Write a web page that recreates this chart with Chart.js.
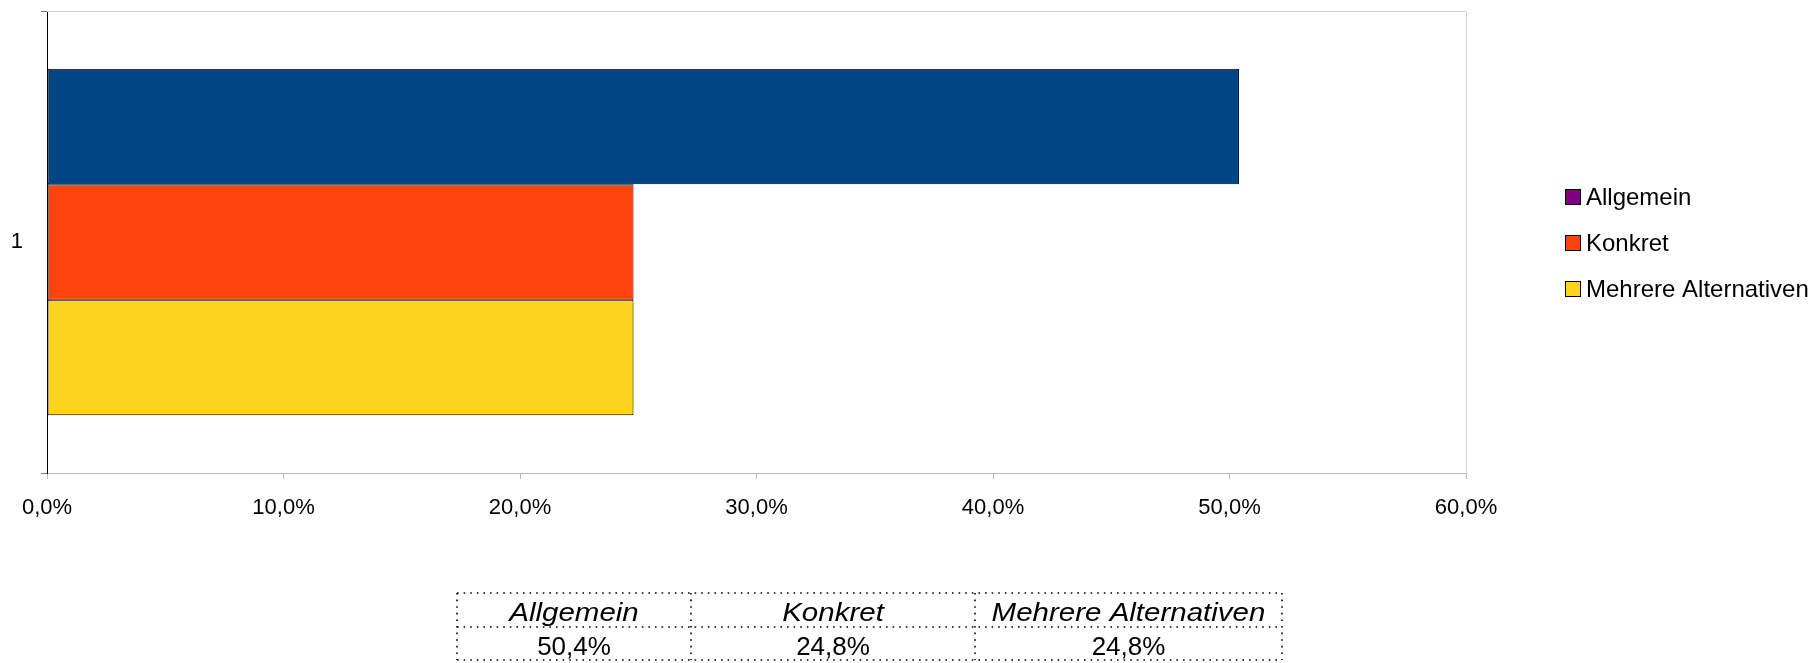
<!DOCTYPE html>
<html>
<head>
<meta charset="utf-8">
<script src="https://cdn.jsdelivr.net/npm/chart.js@4"></script>
<style>
  html, body { margin: 0; padding: 0; background: #fff; }
  canvas { display: block; }
</style>
</head>
<body>
<canvas id="grafico" width="1819" height="663"></canvas>
<script>
// data
const categories = ['1'];
const seriesNames = ['Allgemein', 'Konkret', 'Mehrere Alternativen'];
const allgemein = [50.4];
const konkret = [24.8];
const mehrere = [24.8];
const tickLabels = ['0,0%', '10,0%', '20,0%', '30,0%', '40,0%', '50,0%', '60,0%'];
const barColors = ['#004586', '#ff420e', '#ffd320'];
const legendColors = ['#800080', '#ff420e', '#ffd320'];

const FONT = '"Liberation Sans", Arial, sans-serif';

function fmt(v) {
  return v.toFixed(1).replace('.', ',') + '%';
}

// light frame on top and right of the plot
const framePlugin = {
  id: 'frame',
  beforeDatasetsDraw(chart) {
    const a = chart.chartArea, ctx = chart.ctx;
    ctx.save();
    ctx.strokeStyle = '#d4d4d4';
    ctx.lineWidth = 1;
    ctx.beginPath();
    ctx.moveTo(a.left, a.top + 0.5);
    ctx.lineTo(a.right + 0.5, a.top + 0.5);
    ctx.lineTo(a.right + 0.5, a.bottom);
    ctx.stroke();
    ctx.restore();
  }
};

// legend at the right
const legendPlugin = {
  id: 'sideLegend',
  afterDraw(chart) {
    const a = chart.chartArea, ctx = chart.ctx;
    const cy = (a.top + a.bottom) / 2;
    ctx.save();
    ctx.font = '24px ' + FONT;
    ctx.textBaseline = 'middle';
    ctx.textAlign = 'left';
    chart.data.datasets.forEach((ds, i) => {
      const y = cy + (i - 1) * 46 + 1;
      ctx.fillStyle = legendColors[i];
      ctx.fillRect(1565, y - 8, 16, 16);
      ctx.strokeStyle = '#000';
      ctx.lineWidth = 1;
      ctx.strokeRect(1565.5, y - 7.5, 15, 15);
      ctx.fillStyle = '#000';
      ctx.fillText(ds.label, 1586, y + 1);
    });
    ctx.restore();
  }
};

// data table under the chart
const tablePlugin = {
  id: 'dataTable',
  afterDraw(chart) {
    const ctx = chart.ctx;
    const xs = [457, 691, 975, 1282];
    const ys = [593, 627, 660];
    const vals = chart.data.datasets.map(ds => ds.data[0]);
    ctx.save();
    ctx.strokeStyle = '#000';
    ctx.lineWidth = 1.6;
    ctx.setLineDash([1.6, 5]);
    ys.forEach(y => {
      ctx.beginPath();
      ctx.moveTo(xs[0], y);
      ctx.lineTo(xs[xs.length - 1], y);
      ctx.stroke();
    });
    xs.forEach(x => {
      ctx.beginPath();
      ctx.moveTo(x, ys[0]);
      ctx.lineTo(x, ys[ys.length - 1]);
      ctx.stroke();
    });
    ctx.setLineDash([]);
    ctx.fillStyle = '#000';
    ctx.textAlign = 'center';
    ctx.textBaseline = 'middle';
    for (let i = 0; i < seriesNames.length; i++) {
      const cx = (xs[i] + xs[i + 1]) / 2;
      ctx.save();
      ctx.translate(cx, 614);
      ctx.scale(1.18, 1);
      ctx.font = 'italic 25px ' + FONT;
      ctx.fillText(seriesNames[i], 0, 0);
      ctx.restore();
      ctx.save();
      ctx.translate(cx, 648);
      ctx.scale(1.04, 1);
      ctx.font = '25px ' + FONT;
      ctx.fillText(fmt(vals[i]), 0, 0);
      ctx.restore();
    }
    ctx.restore();
  }
};

const ctx1 = document.getElementById('grafico');

new Chart(ctx1, {
  type: 'bar',
  data: {
    labels: categories,
    datasets: [
      { label: seriesNames[0], data: allgemein, backgroundColor: barColors[0] },
      { label: seriesNames[1], data: konkret, backgroundColor: barColors[1] },
      { label: seriesNames[2], data: mehrere, backgroundColor: barColors[2] }
    ]
  },
  options: {
    indexAxis: 'y',
    responsive: false,
    animation: false,
    devicePixelRatio: 1,
    datasets: {
      bar: {
        categoryPercentage: 0.75,
        barPercentage: 1,
        borderWidth: 1,
        borderColor: '#000',
        borderSkipped: false
      }
    },
    layout: { padding: { top: 11, right: 353, left: 0, bottom: 0 } },
    plugins: {
      legend: { display: false },
      tooltip: { enabled: false }
    },
    scales: {
      x: {
        min: 0,
        max: 60,
        ticks: {
          stepSize: 10,
          color: '#000',
          padding: 16,
          maxRotation: 0,
          font: { family: FONT, size: 22 },
          callback: (v, i) => tickLabels[i]
        },
        grid: { drawOnChartArea: false, tickLength: 6, color: '#b8b8b8' },
        border: { color: '#b8b8b8' },
        afterFit: s => { s.height = 190; s.paddingLeft = 0; s.paddingRight = 0; }
      },
      y: {
        ticks: {
          color: '#000',
          padding: 18,
          font: { family: FONT, size: 22 }
        },
        grid: { drawOnChartArea: false, tickLength: 6, color: '#777' },
        border: { color: '#000' },
        afterFit: s => { s.width = 47; s.paddingTop = 0; s.paddingBottom = 0; }
      }
    }
  },
  plugins: [framePlugin, legendPlugin, tablePlugin]
});
</script>
</body>
</html>
